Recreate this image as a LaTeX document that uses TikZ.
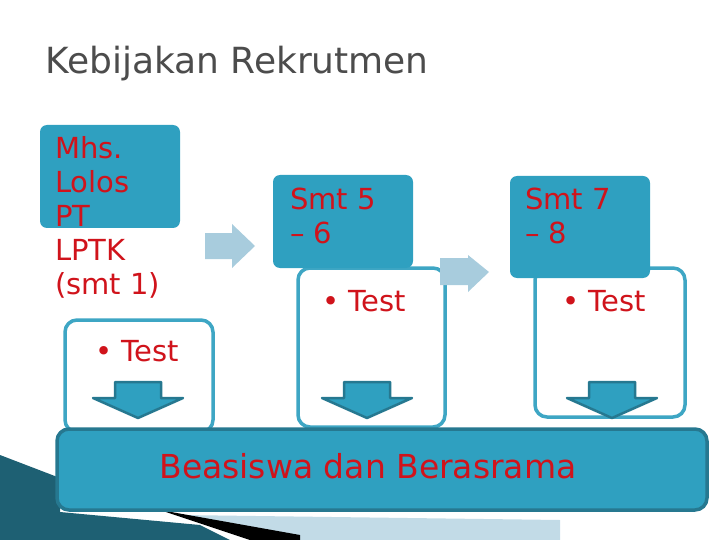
\documentclass[tikz,border=0pt]{standalone}
\usepackage{fontspec}
\setmainfont{DejaVu Sans}
\begin{document}
\begin{tikzpicture}[x=1pt,y=-1pt,
  teal/.style={fill=tealc,rounded corners=7pt},
  wbox/.style={draw=tealb,line width=3.5pt,fill=white,rounded corners=12pt},
  rtxt/.style={text=redc,font=\fontsize{29}{34}\selectfont,align=left,anchor=north west,inner sep=0},
  darr/.style={fill=tealc,draw=teald,line width=2.5pt,line join=round},
  rarr/.style={fill=palec}]
\definecolor{tealc}{HTML}{2FA0C0}
\definecolor{tealb}{HTML}{3EA6C4}
\definecolor{teald}{HTML}{267890}
\definecolor{palec}{HTML}{A8CCDD}
\definecolor{redc}{HTML}{D0131B}
\useasboundingbox (0,0) rectangle (720,540);
% bottom-left decoration
\fill[teald!80!black] (0,455) -- (60,478) -- (60,512) -- (200,525) -- (230,540) -- (0,540) -- cycle;
\fill[palec!70!white] (180,515) -- (560,520) -- (560,540) -- (300,540) -- cycle;
\fill[black] (160,510) -- (300,535) -- (300,540) -- (250,540) -- cycle;
% title
\node[anchor=west,text=black!70,font=\fontsize{36}{40}\selectfont,inner sep=0] (title) at (45,64) {Kebijakan Rekrutmen};
% column 1
\draw[wbox] (65,320) rectangle (213,432);
\fill[teal] (40,125) rectangle (180,228);
\node[rtxt] (t1) at (55,136) {Mhs.\\Lolos\\PT\\LPTK\\(smt 1)};
\node[rtxt] (s1) at (95,340) {\textbullet\ Test};
% column 2
\draw[wbox] (298,268) rectangle (445,427);
\fill[teal] (273,175) rectangle (413,268);
\node[rtxt] (t2) at (290,188) {Smt 5\\– 6};
\node[rtxt] (s2) at (322,290) {\textbullet\ Test};
% column 3
\draw[wbox] (535,268) rectangle (685,417);
\fill[teal] (510,176) rectangle (650,278);
\node[rtxt] (t3) at (525,188) {Smt 7\\– 8};
\node[rtxt] (s3) at (562,290) {\textbullet\ Test};
% right arrows
\fill[rarr] (205,233) -- (232,233) -- (232,224) -- (255,246) -- (232,268) -- (232,259) -- (205,259) -- cycle;
\fill[rarr] (440,258) -- (468,258) -- (468,255) -- (489,272) -- (468,292) -- (468,285) -- (440,285) -- cycle;
% big box
\draw[fill=tealc,draw=teald,line width=3.5pt,rounded corners=12pt] (57,429) rectangle (707,510);
\node[text=redc,font=\fontsize{33}{37}\selectfont,inner sep=0] (big) at (368,466) {Beasiswa dan Berasrama};
% down arrows
\foreach \cx in {138,367,612}{
  \draw[darr] (\cx-23,382) -- (\cx+23,382) -- (\cx+23,398) -- (\cx+45,398) -- (\cx,418) -- (\cx-45,398) -- (\cx-23,398) -- cycle;
}
\end{tikzpicture}
\end{document}
